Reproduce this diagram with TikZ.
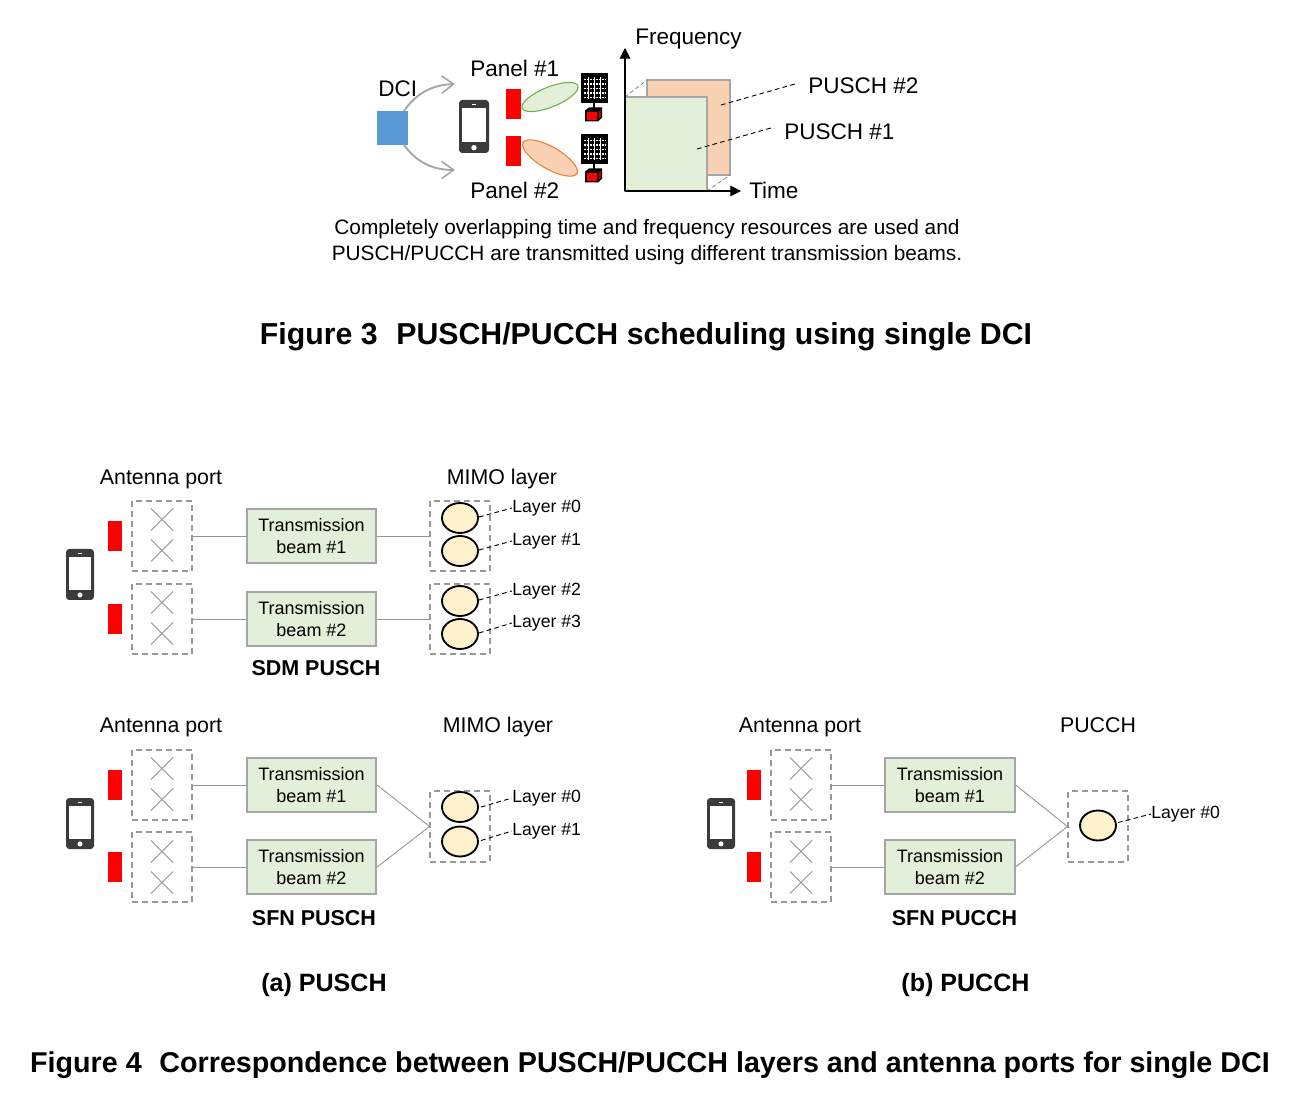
\documentclass[tikz,border=0pt]{standalone}
\usepackage{fontspec}
\setmainfont{Liberation Sans}
\usetikzlibrary{arrows.meta,shapes.geometric,calc}
\definecolor{gboxfill}{HTML}{E2EFD9}
\definecolor{gboxline}{HTML}{A6A6A6}
\definecolor{beamgl}{HTML}{70AD47}
\definecolor{oran}{HTML}{F9D2B3}
\definecolor{oranl}{HTML}{ED7D31}
\definecolor{yel}{HTML}{FFF2CC}
\definecolor{blu}{HTML}{5B9BD5}
\definecolor{phonec}{HTML}{3B3B3B}
\definecolor{rd}{HTML}{FF0000}
\tikzset{
 x=0.75pt,y=-0.75pt,
 lbl/.style={font=\fontsize{16.9}{20}\selectfont,inner sep=0pt,anchor=west},
 captxt/.style={font=\fontsize{15.62}{19.5}\selectfont,inner sep=0pt,align=center},
 mlbl/.style={font=\fontsize{16}{20}\selectfont,inner sep=0pt,anchor=center},
 laylbl/.style={font=\fontsize{13.25}{16}\selectfont,inner sep=0pt,anchor=west},
 subhd/.style={font=\bfseries\fontsize{16.1}{19}\selectfont,inner sep=0pt},
 sub2/.style={font=\bfseries\fontsize{18.8}{22}\selectfont,inner sep=0pt},
 fighd/.style={font=\bfseries\fontsize{22.7}{26}\selectfont,inner sep=0pt},
 fighdb/.style={font=\bfseries\fontsize{21.5}{26}\selectfont,inner sep=0pt},
 tbeam/.style={draw=gboxline,line width=1.5pt,fill=gboxfill,minimum width=97pt,minimum height=40.5pt,inner sep=0pt,align=center,font=\fontsize{13.5}{16.5}\selectfont},
 dbox/.style={draw=gray!80,dashed,dash pattern=on 4.5pt off 3pt,line width=1.3pt,minimum width=44.5pt,minimum height=53pt,inner sep=0pt},
 redp/.style={fill=rd,minimum width=11pt,minimum height=22.5pt,inner sep=0pt},
 lay/.style={ellipse,draw=black,line width=1.4pt,fill=yel,minimum width=27pt,minimum height=22.5pt,inner sep=0pt},
 conn/.style={draw=gray!85,line width=0.65pt},
 lead/.style={draw=black,dashed,dash pattern=on 3.5pt off 2.5pt,line width=0.7pt},
 xmark/.style={draw=gray!85,line width=0.7pt},
 curv/.style={draw=gray!70,line width=1.4pt,-{Straight Barb[length=9pt,width=13pt,line width=1.2pt]}},
 axisl/.style={draw=black,line width=0.8pt,-{Triangle[length=8pt,width=8pt]}},
}
% phone centred at (#1,#2), width #3, height #4
\newcommand{\phonepic}[5]{%
 \node[draw=none,fill=phonec,rounded corners=2.5pt,minimum width=#3*0.75pt,minimum height=#4*0.75pt,inner sep=0pt] (#5) at (#1,#2) {};
 \fill[white] ($(#1,#2)+(-#3*0.39,-#4*0.34)$) rectangle ($(#1,#2)+(#3*0.39,#4*0.3)$);
 \fill[white] ($(#1,#2)+(0,#4*0.4)$) circle[radius=#3*0.09*0.75pt];
 \draw[white,line width=0.6pt] ($(#1,#2)+(-#3*0.08,-#4*0.42)$) -- ($(#1,#2)+(#3*0.08,-#4*0.42)$);
}
% antenna panel centred at (#1,#2)
\newcommand{\antpanel}[2]{%
 \fill[black] ($(#1,#2)+(-13,-15)$) rectangle ($(#1,#2)+(14,15)$);
 \foreach \i in {-9,-4.5,0,4.5,9}{
  \draw[white,line width=1pt,dash pattern=on 1.5pt off 0.7pt] ($(#1,#2)+(-10,\i)$) -- ($(#1,#2)+(11,\i)$);}
 \foreach \i in {-6,0,6}{
  \draw[white,line width=0.7pt] ($(#1,#2)+(\i,-11)$) -- ($(#1,#2)+(\i,11)$);}
 \draw[black,line width=1.2pt] ($(#1,#2)+(0,15)$) -- ($(#1,#2)+(0,20)$);
 \fill[black] ($(#1,#2)+(-9,22)$) -- ($(#1,#2)+(-5,19)$) -- ($(#1,#2)+(8,19)$) -- ($(#1,#2)+(8,29)$) -- ($(#1,#2)+(4,33)$) -- ($(#1,#2)+(-9,33)$) -- cycle;
 \fill[rd] ($(#1,#2)+(-7.5,23.5)$) rectangle ($(#1,#2)+(3,31.5)$);
 \fill[rd!70!black] ($(#1,#2)+(4.5,23)$) -- ($(#1,#2)+(7,21)$) -- ($(#1,#2)+(7,28)$) -- ($(#1,#2)+(4.5,31)$) -- cycle;
}
% X pair inside a port box centred at (#1,#2)
\newcommand{\xpair}[2]{%
 \draw[xmark] ($(#1,#2)+(-11,-27)$) -- ($(#1,#2)+(11,-5)$);
 \draw[xmark] ($(#1,#2)+(11,-27)$) -- ($(#1,#2)+(-11,-5)$);
 \draw[xmark] ($(#1,#2)+(-11,4)$) -- ($(#1,#2)+(11,26)$);
 \draw[xmark] ($(#1,#2)+(11,4)$) -- ($(#1,#2)+(-11,26)$);
}
\begin{document}
\begin{tikzpicture}
\useasboundingbox (0,0) rectangle (1300,1094);
\fill[white] (0,0) rectangle (1300,1094);

%--------- Figure 3
\node[fill=blu,minimum width=23.5pt,minimum height=25.5pt,inner sep=0pt] (dci) at (392.5,128) {};
\node[lbl] (dcit) at (378,89) {DCI};
\coordinate (ar1) at (455,84);
\coordinate (ar2) at (455,170);
\draw[curv] (404,111) .. controls (415,95) and (430,85) .. (ar1);
\draw[curv] (404,145) .. controls (415,160) and (430,170) .. (ar2);
\phonepic{474}{126.5}{30}{53}{ph0}
\node[redp,minimum width=11.5pt] (p1) at (513.5,104) {};
\node[redp,minimum width=11.5pt] (p2) at (513.5,151) {};
\node[lbl] at (470,68) {Panel \#1};
\node[lbl] at (470,190) {Panel \#2};
\draw[beamgl,fill=gboxfill,line width=0.8pt,rotate around={22:(550,97)}] (550,97) ellipse[x radius=30,y radius=10];
\draw[oranl,fill=oran,line width=0.8pt,rotate around={-30:(550,158)}] (550,158) ellipse[x radius=31,y radius=11];
\antpanel{594}{88.5}
\antpanel{594}{149.5}

\coordinate (orig) at (625,191);
\coordinate (ftop) at (625,48);
\coordinate (tend) at (741,191);
\draw[draw=gboxline,line width=0.8pt,fill=oran] (647,80) rectangle (730,175);
\draw[draw=gboxline,line width=0.8pt,fill=gboxfill] (625,97) rectangle (707,191);
\draw[gray,dashed,dash pattern=on 3pt off 2pt,line width=0.6pt] (625,97) -- (647,80);
\draw[gray,dashed,dash pattern=on 3pt off 2pt,line width=0.6pt] (707,191) -- (730,175);
\draw[axisl] (orig) -- (ftop);
\draw[axisl] (orig) -- (tend);
\node[lbl] (ft) at (635,39) {Frequency};
\node[lbl] (tt) at (749,190) {Time};
\node[lbl] (pu2) at (808,86) {PUSCH \#2};
\node[lbl] (pu1) at (784,131.5) {PUSCH \#1};
\coordinate (l2) at (721,105);
\coordinate (l1) at (697,149);
\draw[lead] (l2) -- (795,84);
\draw[lead] (l1) -- (771,128);
\node[captxt] (capt) at (647,242.5) {Completely overlapping time and frequency resources are used and\\PUSCH/PUCCH are transmitted using different transmission beams.};
\node[fighd] (f3) at (646,336.5) {Figure 3\hspace{0.62em}PUSCH/PUCCH scheduling using single DCI};

%--------- SDM PUSCH
\node[mlbl] at (161,479) {Antenna port};
\node[mlbl] at (502,479) {MIMO layer};
\phonepic{80}{574.5}{28}{51}{ph1}
\node[redp] (r1) at (115,536) {};
\node[redp] (r2) at (115,619) {};
\node[dbox] (a1) at (162,536) {};
\node[dbox] (a2) at (162,619) {};
\xpair{162}{535.5}
\xpair{162}{618.5}
\node[tbeam] (t1) at (311.5,536) {Transmission\\beam \#1};
\node[tbeam] (t2) at (311.5,619) {Transmission\\beam \#2};
\node[dbox] (m1) at (460,536) {};
\node[dbox] (m2) at (460,619) {};
\node[lay] (e0) at (460,518) {};
\node[lay] (e1) at (460,551) {};
\node[lay] (e2) at (460,601) {};
\node[lay] (e3) at (460,634) {};
\draw[conn] (a1.east) -- (t1.west);
\draw[conn] (a2.east) -- (t2.west);
\draw[conn] (t1.east) -- (m1.west);
\draw[conn] (t2.east) -- (m2.west);
\node[laylbl] (n0) at (512,508) {Layer \#0};
\node[laylbl] (n1) at (512,541) {Layer \#1};
\node[laylbl] (n2) at (512,591) {Layer \#2};
\node[laylbl] (n3) at (512,623) {Layer \#3};
\draw[lead] (e0) ++(19,-1) -- (n0.west);
\draw[lead] (e1) ++(19,-1) -- (n1.west);
\draw[lead] (e2) ++(19,-1) -- (n2.west);
\draw[lead] (e3) ++(19,-1) -- (n3.west);
\node[subhd] at (316,668) {SDM PUSCH};

%--------- SFN PUSCH
\node[mlbl] at (161,727) {Antenna port};
\node[mlbl] at (498,727) {MIMO layer};
\phonepic{80}{823.5}{28}{51}{ph2}
\node[redp] (r3) at (115,785) {};
\node[redp] (r4) at (115,867) {};
\node[dbox] (a3) at (162,785) {};
\node[dbox] (a4) at (162,867) {};
\xpair{162}{784.5}
\xpair{162}{867.5}
\node[tbeam] (t3) at (311.5,785) {Transmission\\beam \#1};
\node[tbeam] (t4) at (311.5,867) {Transmission\\beam \#2};
\node[dbox] (m3) at (460,826.5) {};
\node[lay] (e4) at (460,807) {};
\node[lay] (e5) at (460,841.5) {};
\draw[conn] (a3.east) -- (t3.west);
\draw[conn] (a4.east) -- (t4.west);
\draw[conn] (t3.east) -- (m3.west);
\draw[conn] (t4.east) -- (m3.west);
\node[laylbl] (n4) at (512,798) {Layer \#0};
\node[laylbl] (n5) at (512,831) {Layer \#1};
\draw[lead] (e4) ++(21,0) -- (n4.west);
\draw[lead] (e5) ++(21,-1) -- (n5.west);
\node[subhd] at (314,918) {SFN PUSCH};

%--------- SFN PUCCH
\node[mlbl] at (800,727) {Antenna port};
\node[mlbl] at (1098,725) {PUCCH};
\phonepic{721}{823.5}{28}{51}{ph3}
\node[redp] (r5) at (754,785) {};
\node[redp] (r6) at (754,867) {};
\node[dbox] (a5) at (801,785) {};
\node[dbox] (a6) at (801,867) {};
\xpair{801}{784.5}
\xpair{801}{867.5}
\node[tbeam] (t5) at (950,785) {Transmission\\beam \#1};
\node[tbeam] (t6) at (950,867) {Transmission\\beam \#2};
\node[dbox] (m4) at (1098,826.5) {};
\node[lay] (e6) at (1098,825.5) {};
\draw[conn] (a5.east) -- (t5.west);
\draw[conn] (a6.east) -- (t6.west);
\draw[conn] (t5.east) -- (m4.west);
\draw[conn] (t6.east) -- (m4.west);
\node[laylbl] (n6) at (1151,814) {Layer \#0};
\draw[lead] (e6) ++(20,-3) -- (n6.west);
\node[subhd] at (954.5,918) {SFN PUCCH};

\node[sub2] at (324,985) {(a) PUSCH};
\node[sub2] at (965.5,985) {(b) PUCCH};
\node[fighdb] (f4) at (650,1065) {Figure 4\hspace{0.62em}Correspondence between PUSCH/PUCCH layers and antenna ports for single DCI};
\end{tikzpicture}
\end{document}
